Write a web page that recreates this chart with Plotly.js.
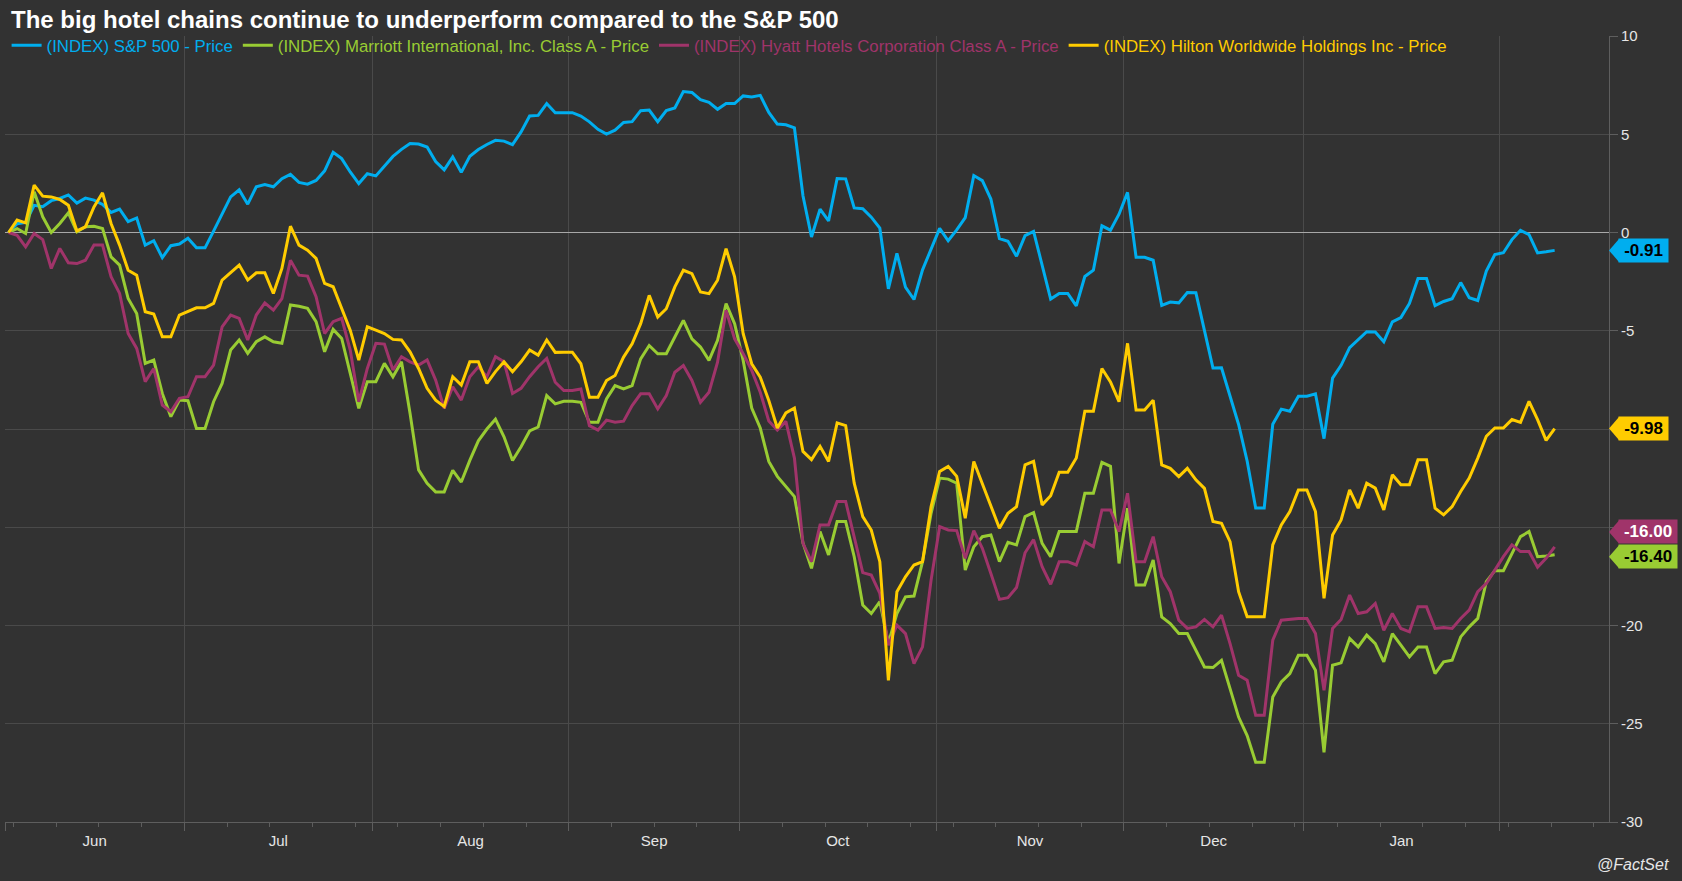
<!DOCTYPE html>
<html>
<head>
<meta charset="utf-8">
<script src="https://cdn.plot.ly/plotly-3.0.1.min.js"></script>
<style>
html,body{margin:0;padding:0;background:#323232;}
#chart{width:1682px;height:881px;}
</style>
</head>
<body>
<div id="chart"></div>
<script>
// Trading weekdays (holidays carry the previous close)
const dates = [
 '2018-06-01','2018-06-04','2018-06-05','2018-06-06','2018-06-07','2018-06-08','2018-06-11','2018-06-12','2018-06-13','2018-06-14','2018-06-15','2018-06-18','2018-06-19','2018-06-20','2018-06-21','2018-06-22','2018-06-25','2018-06-26','2018-06-27','2018-06-28','2018-06-29',
 '2018-07-02','2018-07-03','2018-07-04','2018-07-05','2018-07-06','2018-07-09','2018-07-10','2018-07-11','2018-07-12','2018-07-13','2018-07-16','2018-07-17','2018-07-18','2018-07-19','2018-07-20','2018-07-23','2018-07-24','2018-07-25','2018-07-26','2018-07-27','2018-07-30','2018-07-31',
 '2018-08-01','2018-08-02','2018-08-03','2018-08-06','2018-08-07','2018-08-08','2018-08-09','2018-08-10','2018-08-13','2018-08-14','2018-08-15','2018-08-16','2018-08-17','2018-08-20','2018-08-21','2018-08-22','2018-08-23','2018-08-24','2018-08-27','2018-08-28','2018-08-29','2018-08-30','2018-08-31',
 '2018-09-03','2018-09-04','2018-09-05','2018-09-06','2018-09-07','2018-09-10','2018-09-11','2018-09-12','2018-09-13','2018-09-14','2018-09-17','2018-09-18','2018-09-19','2018-09-20','2018-09-21','2018-09-24','2018-09-25','2018-09-26','2018-09-27','2018-09-28',
 '2018-10-01','2018-10-02','2018-10-03','2018-10-04','2018-10-05','2018-10-08','2018-10-09','2018-10-10','2018-10-11','2018-10-12','2018-10-15','2018-10-16','2018-10-17','2018-10-18','2018-10-19','2018-10-22','2018-10-23','2018-10-24','2018-10-25','2018-10-26','2018-10-29','2018-10-30','2018-10-31',
 '2018-11-01','2018-11-02','2018-11-05','2018-11-06','2018-11-07','2018-11-08','2018-11-09','2018-11-12','2018-11-13','2018-11-14','2018-11-15','2018-11-16','2018-11-19','2018-11-20','2018-11-21','2018-11-22','2018-11-23','2018-11-26','2018-11-27','2018-11-28','2018-11-29','2018-11-30',
 '2018-12-03','2018-12-04','2018-12-05','2018-12-06','2018-12-07','2018-12-10','2018-12-11','2018-12-12','2018-12-13','2018-12-14','2018-12-17','2018-12-18','2018-12-19','2018-12-20','2018-12-21','2018-12-24','2018-12-25','2018-12-26','2018-12-27','2018-12-28','2018-12-31',
 '2019-01-01','2019-01-02','2019-01-03','2019-01-04','2019-01-07','2019-01-08','2019-01-09','2019-01-10','2019-01-11','2019-01-14','2019-01-15','2019-01-16','2019-01-17','2019-01-18','2019-01-21','2019-01-22','2019-01-23','2019-01-24','2019-01-25','2019-01-28','2019-01-29','2019-01-30','2019-01-31',
 '2019-02-01','2019-02-04','2019-02-05','2019-02-06','2019-02-07','2019-02-08','2019-02-11'
];

const sp500 = [
 0,0.45,0.52,1.38,1.31,1.62,1.73,1.91,1.50,1.75,1.65,1.43,1.02,1.19,0.55,0.74,-0.64,-0.42,-1.28,-0.67,-0.59,
 -0.29,-0.78,-0.78,0.07,0.92,1.81,2.17,1.44,2.33,2.44,2.33,2.74,2.96,2.55,2.46,2.65,3.14,4.08,3.76,3.08,2.49,2.99,
 2.88,3.39,3.87,4.23,4.53,4.50,4.35,3.61,3.19,3.85,3.06,3.88,4.22,4.48,4.69,4.65,4.47,5.12,5.93,5.96,6.56,6.09,6.10,
 6.10,5.93,5.63,5.25,5.01,5.21,5.60,5.64,6.20,6.23,5.64,6.21,6.34,7.17,7.13,6.76,6.62,6.27,6.56,6.56,
 6.95,6.90,6.98,6.11,5.52,5.48,5.33,1.87,-0.23,1.19,0.59,2.75,2.73,1.25,1.21,0.78,0.22,-2.87,-1.06,-2.78,-3.41,-1.90,-0.84,
 0.21,-0.42,0.13,0.76,2.90,2.64,1.70,-0.31,-0.45,-1.21,-0.16,0.06,-1.60,-3.39,-3.10,-3.10,-3.73,-2.24,-1.92,0.34,0.12,0.93,
 2.04,-1.26,-1.26,-1.41,-3.71,-3.54,-3.58,-3.06,-3.07,-4.92,-6.90,-6.89,-8.33,-9.77,-11.63,-14.02,-14.02,-9.76,-8.99,-9.10,-8.33,
 -8.33,-8.21,-10.49,-7.41,-6.76,-5.86,-5.47,-5.05,-5.06,-5.56,-4.55,-4.33,-3.61,-2.34,-2.34,-3.72,-3.51,-3.37,-2.55,-3.32,-3.46,-1.96,-1.12,
 -1.03,-0.36,0.11,-0.11,-1.04,-0.98,-0.91
];

const marriott = [
 0,0.20,-0.05,2.07,0.80,0.00,0.46,1.00,0.03,0.29,0.32,0.20,-1.24,-1.66,-3.36,-4.12,-6.66,-6.49,-8.19,-9.37,-8.53,
 -8.56,-9.97,-9.97,-8.61,-7.68,-5.98,-5.47,-6.15,-5.56,-5.31,-5.56,-5.64,-3.69,-3.75,-3.86,-4.54,-6.07,-4.93,-5.39,-7.17,-8.95,-7.59,
 -7.59,-6.66,-7.34,-6.58,-9.20,-12.08,-12.76,-13.20,-13.20,-12.10,-12.70,-11.60,-10.60,-10.00,-9.50,-10.40,-11.60,-10.90,-10.10,-9.90,-8.30,-8.72,-8.59,
 -8.59,-8.64,-9.66,-9.66,-8.47,-7.79,-7.96,-7.79,-6.43,-5.75,-6.17,-6.17,-5.32,-4.47,-5.41,-5.83,-6.51,-5.49,-3.62,-4.64,
 -6.51,-8.93,-9.95,-11.65,-12.41,-12.93,-13.44,-15.80,-17.09,-15.22,-16.41,-14.71,-14.71,-16.50,-18.96,-19.39,-18.79,-20.90,-19.39,-18.54,-18.50,-16.75,-14.29,
 -12.50,-12.55,-12.76,-17.18,-15.99,-15.48,-15.39,-16.75,-15.77,-15.90,-14.46,-14.25,-15.82,-16.50,-15.22,-15.22,-15.22,-13.27,-13.27,-11.70,-11.90,-16.84,
 -14.03,-17.94,-17.94,-16.67,-19.56,-19.90,-20.41,-20.41,-21.26,-22.11,-22.14,-21.77,-23.21,-24.66,-25.60,-26.96,-26.96,-23.64,-22.87,-22.45,-21.51,
 -21.51,-22.28,-26.45,-22.02,-21.90,-20.66,-21.09,-20.49,-20.92,-21.85,-20.41,-21.00,-21.60,-21.09,-21.09,-22.45,-21.85,-21.77,-20.58,-20.07,-19.64,-17.77,-17.21,
 -17.21,-16.33,-15.48,-15.22,-16.50,-16.46,-16.40
];

const hyatt = [
 0,-0.14,-0.73,-0.05,-0.36,-1.83,-0.81,-1.54,-1.58,-1.41,-0.64,-0.64,-2.25,-3.10,-5.14,-5.90,-7.59,-6.92,-8.78,-9.12,-8.44,
 -8.36,-7.34,-7.34,-6.75,-4.80,-4.20,-4.37,-5.47,-4.20,-3.58,-3.95,-3.36,-1.41,-2.17,-2.22,-3.27,-5.14,-4.54,-4.37,-5.98,-8.61,-6.92,
 -5.64,-5.68,-7.00,-6.32,-6.58,-6.75,-6.49,-7.51,-8.95,-7.85,-8.53,-7.34,-6.83,-7.34,-6.32,-6.58,-8.19,-7.93,-7.34,-6.83,-6.41,-7.62,-8.04,
 -8.04,-7.96,-9.83,-10.06,-9.55,-9.66,-9.60,-8.81,-8.21,-8.21,-8.98,-8.30,-7.11,-6.77,-7.53,-8.64,-8.13,-6.60,-3.96,-5.41,
 -6.17,-7.02,-8.13,-9.59,-10.06,-9.61,-11.48,-15.82,-16.75,-14.88,-14.88,-13.69,-13.69,-15.48,-17.31,-17.43,-18.37,-21.00,-19.98,-20.41,-21.94,-21.09,-17.69,
 -14.97,-15.14,-15.17,-16.58,-15.17,-16.07,-17.35,-18.67,-18.58,-18.07,-16.30,-15.63,-17.01,-17.90,-16.75,-16.75,-16.92,-15.73,-15.99,-14.12,-14.12,-15.22,
 -13.27,-16.75,-16.75,-15.48,-17.52,-18.28,-19.73,-20.15,-20.07,-19.69,-20.07,-19.47,-20.92,-22.53,-22.79,-24.57,-24.57,-20.75,-19.73,-19.69,-19.64,
 -19.64,-20.41,-23.30,-20.15,-19.69,-18.45,-19.39,-19.30,-18.88,-20.24,-19.39,-20.15,-20.32,-19.05,-19.05,-20.15,-20.10,-20.15,-19.64,-19.22,-18.28,-17.86,-17.18,
 -16.50,-15.90,-16.24,-16.24,-17.04,-16.58,-16.00
];

const hilton = [
 0,0.63,0.49,2.41,1.85,1.81,1.68,1.39,0.08,0.29,1.30,2.02,0.46,-0.64,-1.92,-2.17,-4.03,-4.15,-5.31,-5.31,-4.20,
 -4.00,-3.83,-3.83,-3.61,-2.42,-2.05,-1.66,-2.42,-2.05,-2.05,-3.10,-1.83,0.32,-0.64,-0.90,-1.32,-2.59,-2.76,-3.86,-4.97,-6.49,-4.80,
 -4.97,-5.14,-5.44,-5.47,-6.07,-6.92,-7.93,-8.53,-8.86,-7.34,-7.76,-6.58,-6.58,-7.68,-7.08,-6.58,-7.08,-6.58,-5.98,-6.24,-5.47,-6.10,-6.09,
 -6.09,-6.68,-8.38,-8.38,-7.53,-7.28,-6.34,-5.66,-4.64,-3.20,-4.30,-3.88,-2.77,-1.92,-2.09,-3.03,-3.11,-2.43,-0.82,-2.26,
 -5.15,-6.68,-7.36,-8.55,-9.95,-9.18,-8.93,-11.14,-11.56,-10.88,-11.65,-9.69,-9.83,-12.76,-14.46,-15.14,-16.75,-22.79,-18.28,-17.52,-16.92,-16.75,-13.95,
 -12.16,-11.90,-12.41,-14.54,-11.65,-12.76,-13.95,-15.05,-14.29,-13.95,-11.82,-11.65,-13.86,-13.40,-12.20,-12.20,-11.48,-9.10,-9.10,-6.92,-7.60,-8.61,
 -5.64,-9.03,-9.03,-8.53,-11.83,-12.00,-12.42,-12.00,-12.59,-13.02,-14.71,-14.80,-15.73,-18.28,-19.56,-19.56,-19.56,-15.90,-14.88,-14.20,-13.10,
 -13.10,-14.20,-18.62,-15.39,-14.63,-13.10,-14.03,-12.76,-13.01,-14.12,-12.33,-12.84,-12.84,-11.56,-11.56,-14.03,-14.37,-13.95,-13.18,-12.50,-11.48,-10.37,-9.95,
 -9.95,-9.52,-9.66,-8.59,-9.52,-10.58,-9.98
];

const seriesNames = [
 '(INDEX) S&P 500 - Price',
 '(INDEX) Marriott International, Inc. Class A - Price',
 '(INDEX) Hyatt Hotels Corporation Class A - Price',
 '(INDEX) Hilton Worldwide Holdings Inc - Price'
];
const monthStarts = ['2018-06-01','2018-07-02','2018-08-01','2018-09-03','2018-10-01','2018-11-01','2018-12-03','2019-01-01','2019-02-01'];
const monthLabels = ['Jun','Jul','Aug','Sep','Oct','Nov','Dec','Jan'];
const yTickVals = [10,5,0,-5,-10,-15,-20,-25,-30];
const yTickText = ['10','5','0','-5','-10','-15','-20','-25','-30'];
const titleText = 'The big hotel chains continue to underperform compared to the S&P 500';
const sourceText = '@FactSet';

// ---- styling / layout ----
const FONT = 'Liberation Sans, Arial, sans-serif';
const BG = '#323232';
const GRID = '#4a4a4a';
const AXIS = '#5e5e5e';
const colors = ['#00AEEF', '#99CC33', '#A0346A', '#FFCC00'];
const tagText = ['#000000', '#000000', '#ffffff', '#000000'];
const tagShift = [0, -2, 15, 0];
const series = [sp500, marriott, hyatt, hilton];
const traceAxis = ['x', 'x', 'x', 'x2'];
const xRange = ['2018-06-01', '2019-02-19 18:43'];
const breaks = [{bounds: ['sat', 'mon']}];
// label anchor = middle weekday of each month period
const labelAt = ['2018-06-15 12:00','2018-07-17','2018-08-16 12:00','2018-09-17','2018-10-16 12:00','2018-11-16','2018-12-17 12:00','2019-01-16 12:00'];
const xPts = dates.map(d => d + ' 10:00');

const traces = series.map((vals, i) => ({
  type: 'scatter', mode: 'lines',
  x: xPts, y: vals, xaxis: traceAxis[i], yaxis: 'y',
  name: '<span style="color:' + colors[i] + '">' + seriesNames[i] + '</span>',
  line: {color: colors[i], width: 3},
  hoverinfo: 'skip'
}));

const cvs = document.createElement('canvas').getContext('2d');
cvs.font = 'bold 17px "Liberation Sans", Arial';
const annotations = [];
const shapes = [];
series.forEach((vals, i) => {
  const last = vals[vals.length - 1];
  const txt = last.toFixed(2);
  const w = Math.round(cvs.measureText(txt).width) + 8;
  annotations.push({
    xref: 'paper', yref: 'y', x: 1, xshift: 9, xanchor: 'left',
    y: last, yanchor: 'middle', yshift: tagShift[i],
    text: '<b>' + txt + '</b>', showarrow: false,
    font: {family: FONT, size: 17, color: tagText[i]},
    bgcolor: colors[i], borderpad: 1, width: w, height: 21, align: 'center'
  });
  const s = tagShift[i];
  shapes.push({
    type: 'path', xref: 'paper', yref: 'y', xsizemode: 'pixel', ysizemode: 'pixel',
    xanchor: 1, yanchor: last, layer: 'above',
    path: 'M 0 ' + s + ' L 10 ' + (s + 11.5) + ' L 10 ' + (s - 11.5) + ' Z',
    fillcolor: colors[i], line: {width: 0}
  });
});
annotations.push({
  xref: 'paper', yref: 'paper', x: 1.0387, y: -0.0547, xanchor: 'right', yanchor: 'middle',
  text: sourceText, showarrow: false,
  font: {family: FONT, size: 16, color: '#e6e6e6', style: 'italic'}
});

const layout = {
  width: 1682, height: 881,
  paper_bgcolor: BG, plot_bgcolor: BG,
  margin: {l: 5, r: 73, t: 36, b: 59},
  title: {
    text: titleText, xref: 'container', yref: 'container',
    x: 11 / 1682, xanchor: 'left', y: 1 - 20 / 881, yanchor: 'middle',
    font: {family: FONT, size: 24, color: '#ffffff', weight: 'bold'}
  },
  showlegend: true,
  legend: {
    orientation: 'h', x: 0.001, xanchor: 'left', y: 0.988, yanchor: 'middle',
    bgcolor: 'rgba(0,0,0,0)', font: {family: FONT, size: 16.8, color: '#dddddd'},
    itemclick: false, itemdoubleclick: false
  },
  xaxis: {
    type: 'date', range: xRange, rangebreaks: breaks,
    tickmode: 'array', tickvals: monthStarts, showticklabels: false,
    ticks: 'outside', ticklen: 8, tickcolor: AXIS, tickwidth: 1,
    showgrid: true, gridcolor: GRID, gridwidth: 1,
    showline: true, linecolor: AXIS, linewidth: 1, zeroline: false,
    minor: {dtick: 7 * 86400000, tick0: '2018-06-04', ticks: 'outside', ticklen: 4, tickcolor: AXIS, showgrid: false},
    fixedrange: true
  },
  xaxis2: {
    type: 'date', overlaying: 'x', anchor: 'y', side: 'bottom',
    range: xRange, rangebreaks: breaks,
    tickmode: 'array', tickvals: labelAt, ticktext: monthLabels,
    ticks: 'outside', ticklen: 5, tickcolor: 'rgba(0,0,0,0)',
    showgrid: false, showline: false, zeroline: false,
    tickfont: {family: FONT, size: 15, color: '#e6e6e6'}, fixedrange: true
  },
  yaxis: {
    side: 'right', range: [-30, 10],
    tickmode: 'array', tickvals: yTickVals, ticktext: yTickText,
    ticks: 'outside', ticklen: 8, tickcolor: AXIS,
    showgrid: true, gridcolor: GRID, gridwidth: 1,
    zeroline: true, zerolinecolor: '#a8a8a8', zerolinewidth: 1,
    showline: true, linecolor: AXIS, linewidth: 1,
    tickfont: {family: FONT, size: 15, color: '#e6e6e6'}, fixedrange: true
  },
  annotations: annotations,
  shapes: shapes
};

Plotly.newPlot('chart', traces, layout, {displayModeBar: false, staticPlot: true});
</script>
</body>
</html>
